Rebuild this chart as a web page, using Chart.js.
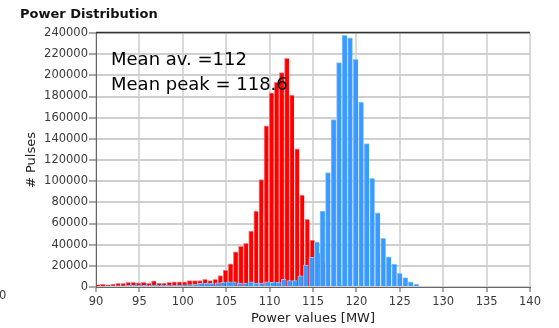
<!DOCTYPE html>
<html>
<head>
<meta charset="utf-8">
<title>Power Distribution</title>
<script src="https://cdn.jsdelivr.net/npm/chart.js@4.4.1/dist/chart.umd.min.js"></script>
<style>
  html, body { margin: 0; padding: 0; background: #fff; }
</style>
</head>
<body>
<canvas id="powerChart" width="559" height="328"></canvas>
<script>
// histogram bins: centre of the first bin and bin width [MW]
const avgBinStart = 90.18;
const avgBinWidth = 0.589;
const peakBinStart = 90.0;
const peakBinWidth = 0.6362;

// pulses per bin, average power (red)
const avgCounts = [
    2000, 2500, 2000, 2500, 3500, 3500, 4400, 4400, 4000, 4400,
    3500, 5900, 3800, 3800, 4400, 5000, 5000, 5000, 6000, 6000,
    6000, 7300, 6000, 7300, 10800, 16000, 22000, 33300, 38500, 41200,
    52800, 71700, 101600, 152400, 183500, 193500, 202600, 216100, 181300, 130500,
    86800, 63900, 44300, 32400, 23000, 0, 0, 0, 1500
];

// pulses per bin, peak power (blue)
const peakCounts = [
    800, 800, 1000, 1000, 1200, 1200, 1500, 1500, 1500, 1500,
    1500, 1500, 1500, 1500, 1500, 1500, 2000, 2200, 2800, 3400,
    3400, 3400, 4000, 4400, 5000, 5000, 3800, 3800, 5000, 3800,
    3800, 5000, 4400, 4400, 7300, 6000, 6000, 10500, 20800, 28000,
    42700, 71700, 108000, 158200, 212000, 237700, 235500, 215100, 174800, 135500,
    102600, 70000, 45900, 28600, 21700, 12900, 8800, 5000, 2500, 900
];

const xRange = [90, 140];
const xStep = 5;
const yRange = [0, 240000];
const yStep = 20000;

const heading = 'Power Distribution';
const notes = ['Mean av. =112', 'Mean peak = 118.6'];

const toPoints = (start, width, counts) => counts.map((c, i) => ({ x: start + i * width, y: c }));

// bar width in pixels for one histogram bin, leaving a hairline gap
function binPx(chart, width) {
    const x = chart.scales.x;
    if (!x) return 5;
    return Math.abs(x.getPixelForValue(x.min + width) - x.getPixelForValue(x.min)) - 0.6;
}

const tickFont = { family: 'DejaVu Sans', size: 11.5 };
const titleFont = { family: 'DejaVu Sans', size: 13 };

const decorations = {
    id: 'decorations',
    afterDraw(chart) {
        const { ctx, chartArea: a } = chart;
        ctx.save();
        // dark frame line along the top of the plot
        ctx.strokeStyle = '#333';
        ctx.lineWidth = 1.5;
        ctx.beginPath();
        ctx.moveTo(a.left, a.top - 0.5);
        ctx.lineTo(a.right, a.top - 0.5);
        ctx.stroke();

        ctx.textBaseline = 'alphabetic';
        ctx.fillStyle = '#111';
        ctx.font = 'bold 13px "DejaVu Sans"';
        ctx.fillText(heading, 20, 18);

        ctx.fillStyle = '#000';
        ctx.font = '18px "DejaVu Sans"';
        notes.forEach((t, i) => ctx.fillText(t, 111, 65 + i * 25));

        // stray zero at the lower left edge
        ctx.fillStyle = '#3a3a3a';
        ctx.font = '11.5px "DejaVu Sans"';
        ctx.fillText('0', -1, 299);
        ctx.restore();
    }
};

const chart = new Chart(document.getElementById('powerChart'), {
    type: 'bar',
    data: {
        datasets: [{
            label: 'Average power',
            data: toPoints(avgBinStart, avgBinWidth, avgCounts),
            backgroundColor: '#ff0000',
            borderColor: '#ff8080',
            borderWidth: { left: 1, top: 1, right: 0, bottom: 0 },
            barThickness: ctx => binPx(ctx.chart, avgBinWidth),
            grouped: false,
            clip: 0,
            order: 2
        }, {
            label: 'Peak power',
            data: toPoints(peakBinStart, peakBinWidth, peakCounts),
            backgroundColor: '#3a9aff',
            borderColor: '#8dc6ff',
            borderWidth: { left: 1, top: 1, right: 0, bottom: 0 },
            barThickness: ctx => binPx(ctx.chart, peakBinWidth),
            grouped: false,
            clip: 0,
            order: 1
        }]
    },
    options: {
        responsive: false,
        animation: false,
        devicePixelRatio: 1,
        layout: { padding: { top: 33, right: 29, left: 0, bottom: 0 } },
        plugins: {
            legend: { display: false },
            tooltip: { enabled: false }
        },
        scales: {
            x: {
                type: 'linear',
                min: xRange[0],
                max: xRange[1],
                offset: false,
                ticks: { stepSize: xStep, padding: 3, maxRotation: 0, color: '#3a3a3a', font: tickFont },
                grid: { offset: false, color: '#d9d9d9', lineWidth: 2, tickLength: 5, tickColor: '#555', tickWidth: 1 },
                border: { color: '#666', width: 1 },
                title: { display: true, text: 'Power values [MW]', color: '#222', font: titleFont, padding: { top: 0, bottom: 2 } },
                afterFit: s => { s.height = 41; }
            },
            y: {
                min: yRange[0],
                max: yRange[1],
                ticks: { stepSize: yStep, padding: 1, color: '#3a3a3a', font: tickFont, callback: v => String(v) },
                grid: { color: '#cfcfcf', lineWidth: 2, tickLength: 7, tickColor: '#555', tickWidth: 1 },
                border: { color: '#666', width: 1 },
                title: { display: true, text: '# Pulses', color: '#222', font: titleFont, padding: { top: 24, bottom: 0 } },
                afterFit: s => { s.width = 96; }
            }
        }
    },
    plugins: [decorations]
});
</script>
</body>
</html>
